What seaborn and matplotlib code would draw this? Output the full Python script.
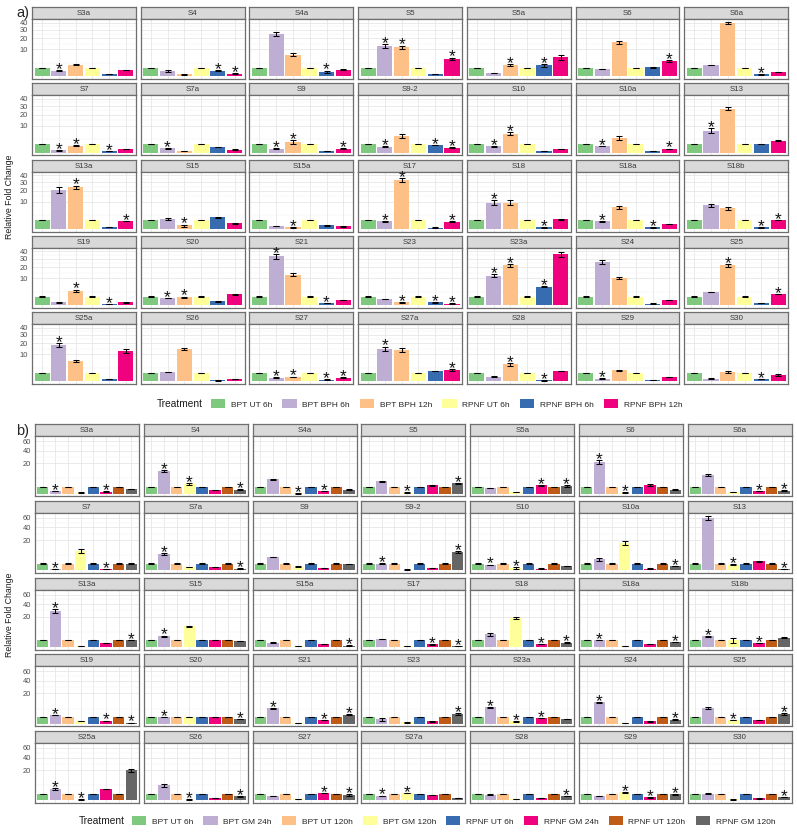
import numpy as np
import pandas as pd
import matplotlib
matplotlib.use("Agg")
import matplotlib.pyplot as plt
import seaborn as sns
from matplotlib.patches import Patch

# ---------------- data ----------------
genes = ["S3a", "S4", "S4a", "S5", "S5a", "S6", "S6a",
         "S7", "S7a", "S9", "S9-2", "S10", "S10a", "S13",
         "S13a", "S15", "S15a", "S17", "S18", "S18a", "S18b",
         "S19", "S20", "S21", "S23", "S23a", "S24", "S25",
         "S25a", "S26", "S27", "S27a", "S28", "S29", "S30"]

treat_a = ["BPT UT 6h", "BPT BPH 6h", "BPT BPH 12h",
           "RPNF UT 6h", "RPNF BPH 6h", "RPNF BPH 12h"]
treat_b = ["BPT UT 6h", "BPT GM 24h", "BPT UT 120h", "BPT GM 120h",
           "RPNF UT 6h", "RPNF GM 24h", "RPNF UT 120h", "RPNF GM 120h"]

colors_a = ["#7FC97F", "#BEAED4", "#FDC086", "#FFFF99", "#386CB0", "#F0027F"]
colors_b = ["#7FC97F", "#BEAED4", "#FDC086", "#FFFF99",
            "#386CB0", "#F0027F", "#BF5B17", "#666666"]

# ---- panel a: relative fold change (mean), error, significance star ----
a_bpt_ut_6h = [1, 1, 1, 1, 1, 1, 1, 1, 1, 1, 1, 1, 1, 1, 1, 1, 1, 1, 1, 1,
               1, 1, 1, 1, 1, 1, 1, 1, 1, 1, 1, 1, 1, 1, 1]
a_bpt_ut_6h_err = [0.02] * 35
a_bpt_ut_6h_star = [0] * 35

a_bpt_bph_6h = [0.44, 0.39, 24.8, 13.0, 0.15, 0.74, 1.78, 0.075, 0.26, 0.19,
                0.5, 0.55, 0.55, 6.7, 21.0, 1.3, 0.1, 0.74, 9.6, 0.74,
                7.75, 0.1, 0.68, 32.8, 0.5, 11.9, 25.6, 2.46, 18.3, 1.2,
                0.19, 14.8, 0.3, 0.1, 0.1]
a_bpt_bph_6h_err = [0.12, 0.08, 2.5, 1.5, 0.03, 0.05, 0.12, 0.02, 0.05, 0.04,
                    0.1, 0.06, 0.04, 1.6, 3.0, 0.25, 0.02, 0.08, 1.8, 0.12,
                    0.9, 0.02, 0.08, 3.0, 0.03, 1.2, 2.5, 0.08, 2.2, 0.04,
                    0.05, 2.0, 0.02, 0.02, 0.02]
a_bpt_bph_6h_star = [1, 0, 0, 1, 0, 0, 0, 1, 1, 1, 1, 1, 1, 1, 0, 0, 0, 1, 1, 1,
                     0, 0, 1, 1, 0, 1, 0, 0, 1, 0, 1, 1, 0, 1, 0]

a_bpt_bph_12h = [1.78, 0.06, 6.5, 11.6, 1.78, 16.0, 39.9, 0.68, 0.025, 1.57,
                 3.7, 5.0, 3.0, 26.8, 24.0, 0.15, 0.025, 33.0, 9.4, 6.5,
                 5.9, 2.85, 0.89, 12.7, 0.1, 22.0, 10.1, 22.0, 5.9, 14.2,
                 0.26, 13.9, 4.0, 1.67, 1.12]
a_bpt_bph_12h_err = [0.15, 0.03, 0.9, 1.5, 0.3, 1.8, 1.5, 0.1, 0.01, 0.6,
                     0.9, 0.9, 0.8, 2.2, 2.0, 0.1, 0.01, 2.5, 1.8, 1.0,
                     0.8, 0.5, 0.12, 1.3, 0.04, 1.8, 0.9, 1.5, 0.6, 1.0,
                     0.05, 1.8, 0.7, 0.1, 0.25]
a_bpt_bph_12h_star = [0, 0, 0, 1, 1, 0, 0, 1, 0, 1, 0, 1, 0, 0, 1, 1, 1, 1, 0, 0,
                      0, 1, 1, 0, 1, 1, 0, 1, 0, 0, 1, 0, 1, 0, 0]

a_rpnf_ut_6h = [1, 1, 1, 1, 1, 1, 1, 1, 1, 1, 1, 1, 1, 1, 1, 1, 1, 1, 1, 1,
                1, 1, 1, 1, 1, 1, 1, 1, 1, 1, 1, 1, 1, 1, 1]
a_rpnf_ut_6h_err = [0.02] * 35
a_rpnf_ut_6h_star = [0] * 35

a_rpnf_bph_6h = [0.055, 0.44, 0.3, 0.055, 1.67, 1.12, 0.055, 0.04, 0.44, 0.04,
                 0.74, 0.025, 0.03, 1.0, 0.04, 1.78, 0.15, 0.015, 0.025, 0.04,
                 0.025, 0.014, 0.19, 0.055, 0.1, 4.65, 0.025, 0.055, 0.075, 0.014,
                 0.04, 1.48, 0.014, 0.025, 0.055]
a_rpnf_bph_6h_err = [0.01, 0.04, 0.15, 0.01, 0.35, 0.05, 0.02, 0.01, 0.03, 0.01,
                     0.04, 0.01, 0.01, 0.04, 0.01, 0.05, 0.02, 0.01, 0.01, 0.02,
                     0.01, 0.01, 0.04, 0.02, 0.02, 0.2, 0.01, 0.01, 0.01, 0.01,
                     0.01, 0.05, 0.01, 0.01, 0.01]
a_rpnf_bph_6h_star = [0, 1, 1, 0, 1, 0, 1, 1, 0, 0, 1, 0, 0, 0, 0, 0, 0, 0, 1, 1,
                      1, 1, 0, 1, 1, 1, 0, 0, 0, 0, 1, 0, 1, 0, 1]

a_rpnf_bph_12h = [0.55, 0.1, 0.6, 4.3, 5.0, 3.4, 0.26, 0.15, 0.125, 0.22,
                  0.35, 0.15, 0.19, 2.0, 0.81, 0.39, 0.075, 0.68, 1.2, 0.35,
                  1.12, 0.1, 1.57, 0.35, 0.025, 36.0, 0.39, 1.67, 12.7, 0.055,
                  0.19, 1.78, 1.48, 0.26, 0.55]
a_rpnf_bph_12h_err = [0.05, 0.03, 0.04, 0.6, 1.2, 0.4, 0.02, 0.02, 0.02, 0.04,
                      0.06, 0.02, 0.03, 0.1, 0.05, 0.03, 0.02, 0.08, 0.04, 0.03,
                      0.04, 0.02, 0.05, 0.03, 0.01, 3.5, 0.03, 0.05, 1.5, 0.01,
                      0.03, 0.2, 0.12, 0.02, 0.12]
a_rpnf_bph_12h_star = [0, 1, 0, 1, 0, 1, 0, 0, 0, 1, 1, 0, 1, 0, 1, 0, 0, 1, 0, 0,
                       1, 0, 0, 0, 1, 0, 0, 1, 0, 0, 1, 1, 0, 0, 0]

# ---- panel b ----
b_bpt_ut_6h = [1, 1, 1, 1, 1, 1, 1, 1, 1, 1, 1, 1, 1, 1, 1, 1, 1, 1, 1, 1,
               1, 1, 1, 1, 1, 1, 1, 1, 1, 1, 1, 1, 1, 1, 1]
b_bpt_ut_6h_err = [0.02] * 35
b_bpt_ut_6h_star = [0] * 35

b_bpt_gm_24h = [0.16, 10.8, 4.4, 3.2, 0.63, 21.9, 7.2, 0.04, 5.9, 3.8,
                1.0, 0.63, 2.7, 60.0, 28.3, 2.53, 0.42, 1.4, 3.4, 1.0,
                2.5, 1.55, 1.0, 5.2, 0.42, 5.9, 9.8, 5.5, 2.7, 5.0,
                0.42, 0.42, 0.72, 0.42, 1.0]
b_bpt_gm_24h_err = [0.03, 1.0, 0.25, 0.35, 0.05, 2.5, 0.8, 0.01, 0.6, 0.1,
                    0.05, 0.08, 0.8, 5.0, 2.5, 0.3, 0.08, 0.03, 0.8, 0.04,
                    0.25, 0.05, 0.04, 0.4, 0.25, 0.2, 0.6, 0.9, 0.45, 0.9,
                    0.05, 0.08, 0.04, 0.03, 0.15]
b_bpt_gm_24h_star = [1, 1, 0, 0, 0, 1, 0, 1, 1, 0, 1, 1, 0, 0, 1, 1, 0, 0, 0, 1,
                     1, 1, 1, 1, 0, 1, 1, 0, 1, 0, 0, 1, 0, 0, 0]

b_bpt_ut_120h = [1, 1, 1, 1, 1, 1, 1, 1, 1, 1, 1, 1, 1, 1, 1, 1, 1, 1, 1, 1,
                 1, 1, 1, 1, 1, 1, 1, 1, 1, 1, 1, 1, 1, 1, 1]
b_bpt_ut_120h_err = [0.02] * 35
b_bpt_ut_120h_star = [0] * 35

b_bpt_gm_120h = [0.02, 1.94, 0.005, 0.02, 0.04, 0.02, 0.04, 8.0, 0.25, 0.3,
                 0.01, 0.12, 16.2, 0.72, 0.01, 9.5, 0.01, 0.01, 18.3, 0.01,
                 1.0, 0.16, 0.9, 0.01, 0.04, 0.12, 0.02, 0.3, 0.01, 0.01,
                 0.04, 1.1, 0.04, 1.4, 0.02]
b_bpt_gm_120h_err = [0.01, 0.4, 0.005, 0.01, 0.01, 0.01, 0.01, 1.5, 0.02, 0.1,
                     0.005, 0.08, 2.0, 0.02, 0.005, 0.4, 0.005, 0.005, 0.8, 0.005,
                     0.6, 0.02, 0.02, 0.005, 0.01, 0.03, 0.01, 0.03, 0.01, 0.01,
                     0.01, 0.06, 0.01, 0.05, 0.01]
b_bpt_gm_120h_star = [0, 1, 1, 1, 0, 1, 0, 0, 0, 0, 0, 1, 0, 1, 0, 0, 0, 0, 0, 0,
                      0, 0, 0, 0, 0, 1, 0, 1, 1, 1, 0, 1, 0, 1, 0]

b_rpnf_ut_6h = [1, 1, 1, 1, 1, 1, 1, 1, 1, 1, 1, 1, 1, 1, 1, 1, 1, 1, 1, 1,
                1, 1, 1, 1, 1, 1, 1, 1, 1, 1, 1, 1, 1, 1, 1]
b_rpnf_ut_6h_err = [0.02] * 35
b_rpnf_ut_6h_star = [0] * 35

b_rpnf_gm_24h = [0.09, 0.25, 0.16, 1.55, 1.55, 1.55, 0.16, 0.04, 0.2, 0.12,
                 0.12, 0.06, 0.06, 1.8, 0.3, 1.0, 0.2, 0.16, 0.2, 0.2,
                 0.3, 0.16, 1.0, 0.3, 0.12, 0.72, 0.12, 0.25, 2.7, 0.12,
                 1.2, 0.56, 0.16, 0.2, 0.09]
b_rpnf_gm_24h_err = [0.02, 0.02, 0.03, 0.2, 0.15, 0.25, 0.03, 0.01, 0.02, 0.02,
                     0.02, 0.01, 0.01, 0.25, 0.02, 0.02, 0.02, 0.05, 0.02, 0.02,
                     0.03, 0.05, 0.02, 0.03, 0.02, 0.05, 0.02, 0.02, 0.05, 0.02,
                     0.05, 0.03, 0.02, 0.03, 0.02]
b_rpnf_gm_24h_star = [1, 0, 1, 0, 1, 0, 1, 1, 0, 0, 0, 0, 0, 0, 0, 0, 0, 1, 1, 0,
                      1, 1, 0, 1, 0, 1, 0, 0, 0, 0, 1, 0, 0, 1, 0]

b_rpnf_ut_120h = [1, 1, 1, 1, 1, 1, 1, 1, 1, 1, 1, 1, 1, 1, 1, 1, 1, 1, 1, 1,
                  1, 1, 1, 1, 1, 1, 1, 1, 1, 1, 1, 1, 1, 1, 1]
b_rpnf_ut_120h_err = [0.02] * 35
b_rpnf_ut_120h_star = [0] * 35

b_rpnf_gm_120h = [0.5, 0.36, 0.36, 2.4, 1.3, 0.36, 0.2, 1.0, 0.06, 0.8,
                  7.2, 0.42, 0.36, 0.04, 1.0, 0.72, 0.04, 0.02, 0.42, 0.56,
                  1.94, 0.02, 0.42, 1.8, 2.1, 0.42, 0.36, 2.1, 19.6, 0.36,
                  0.56, 0.12, 0.42, 0.8, 0.25]
b_rpnf_gm_120h_err = [0.03, 0.03, 0.02, 0.2, 0.35, 0.02, 0.03, 0.03, 0.01, 0.03,
                      0.9, 0.02, 0.03, 0.02, 0.03, 0.02, 0.01, 0.01, 0.03, 0.02,
                      0.04, 0.01, 0.03, 0.1, 0.35, 0.03, 0.05, 0.5, 2.0, 0.06,
                      0.2, 0.02, 0.04, 0.05, 0.06]
b_rpnf_gm_120h_star = [0, 1, 0, 1, 1, 0, 1, 0, 1, 0, 1, 0, 1, 1, 1, 0, 1, 1, 1, 1,
                       0, 1, 1, 1, 1, 0, 1, 1, 0, 1, 1, 0, 1, 1, 1]

series_a = [(a_bpt_ut_6h, a_bpt_ut_6h_err, a_bpt_ut_6h_star),
            (a_bpt_bph_6h, a_bpt_bph_6h_err, a_bpt_bph_6h_star),
            (a_bpt_bph_12h, a_bpt_bph_12h_err, a_bpt_bph_12h_star),
            (a_rpnf_ut_6h, a_rpnf_ut_6h_err, a_rpnf_ut_6h_star),
            (a_rpnf_bph_6h, a_rpnf_bph_6h_err, a_rpnf_bph_6h_star),
            (a_rpnf_bph_12h, a_rpnf_bph_12h_err, a_rpnf_bph_12h_star)]
series_b = [(b_bpt_ut_6h, b_bpt_ut_6h_err, b_bpt_ut_6h_star),
            (b_bpt_gm_24h, b_bpt_gm_24h_err, b_bpt_gm_24h_star),
            (b_bpt_ut_120h, b_bpt_ut_120h_err, b_bpt_ut_120h_star),
            (b_bpt_gm_120h, b_bpt_gm_120h_err, b_bpt_gm_120h_star),
            (b_rpnf_ut_6h, b_rpnf_ut_6h_err, b_rpnf_ut_6h_star),
            (b_rpnf_gm_24h, b_rpnf_gm_24h_err, b_rpnf_gm_24h_star),
            (b_rpnf_ut_120h, b_rpnf_ut_120h_err, b_rpnf_ut_120h_star),
            (b_rpnf_gm_120h, b_rpnf_gm_120h_err, b_rpnf_gm_120h_star)]


def build_df(treats, series):
    rows = []
    for t, (v, e, s) in zip(treats, series):
        assert len(v) == len(e) == len(s) == len(genes), t
        for g, vv, ee, ss in zip(genes, v, e, s):
            rows.append(dict(gene=g, treatment=t, value=vv, err=ee, star=ss))
    return pd.DataFrame(rows)


df_a = build_df(treat_a, series_a)
df_b = build_df(treat_b, series_b)

# ---------------- style ----------------
sns.set_style("white")
plt.rcParams["font.family"] = ["Liberation Sans", "DejaVu Sans"]

W, H = 797, 835
fig = plt.figure(figsize=(W / 100, H / 100), dpi=100)


def rect(x, y, w, h):
    return [x / W, 1 - (y + h) / H, w / W, h / H]


def fwd(x):
    x = np.asarray(x, dtype=float)
    return np.sign(x) * np.sqrt(np.abs(x))


def inv(y):
    y = np.asarray(y, dtype=float)
    return np.sign(y) * y ** 2


BORDER = "#6E6E6E"
GRID = "#E6E6E6"


def draw_panel(df, treats, colors, x0, xpitch, y0, ypitch, strip_h, body_h, ticks):
    n = len(treats)
    s = np.sqrt((df["value"] + df["err"]).max())
    lo, hi = float(inv(-0.05 * s)), float(inv(1.05 * s))
    tsq = np.concatenate([[0.0], fwd(ticks)])
    mids = (tsq[:-1] + tsq[1:]) / 2
    mids = np.append(mids, tsq[-1] + (tsq[-1] - tsq[-2]) / 2)
    minors = inv(mids)
    for k, g in enumerate(genes):
        r, c = divmod(k, 7)
        x = x0 + c * xpitch
        ys = y0 + r * ypitch
        # strip
        sax = fig.add_axes(rect(x, ys, 104, strip_h))
        sax.set_facecolor("#D9D9D9")
        sax.set_xticks([]); sax.set_yticks([])
        for sp in sax.spines.values():
            sp.set_color(BORDER); sp.set_linewidth(0.9)
        sax.text(0.5, 0.45, g, ha="center", va="center", fontsize=5.7,
                 color="#3A3A3A", transform=sax.transAxes)
        # body
        ax = fig.add_axes(rect(x, ys + strip_h, 104, body_h))
        sub = df[df["gene"] == g].set_index("treatment").loc[treats].reset_index()
        sns.barplot(data=sub, x="treatment", y="value", hue="treatment",
                    order=treats, hue_order=treats, palette=colors,
                    legend=False, ax=ax, width=0.9, saturation=1,
                    errorbar=None, linewidth=0, zorder=2)
        ax.set_yscale("function", functions=(fwd, inv))
        xs = np.arange(n)
        ax.errorbar(xs, sub["value"], yerr=sub["err"], fmt="none",
                    ecolor="black", elinewidth=0.75, capsize=2.3,
                    capthick=0.75, zorder=3)
        for i in range(n):
            if sub["star"].iloc[i]:
                ax.annotate("*", xy=(i, sub["value"].iloc[i] + sub["err"].iloc[i]),
                            xytext=(0, -2.9), textcoords="offset points",
                            ha="center", va="baseline", fontsize=12.5,
                            color="#111111", zorder=4)
        ax.set_xlim(-0.6, n - 0.4)
        ax.set_ylim(lo, hi)
        ax.set_xticks(xs)
        ax.set_xticklabels([])
        ax.set_yticks(ticks)
        ax.set_yticks(minors, minor=True)
        ax.set_xlabel(""); ax.set_ylabel("")
        ax.tick_params(axis="x", length=0)
        ax.tick_params(axis="y", which="minor", length=0)
        if c == 0:
            ax.set_yticklabels([str(t) for t in ticks])
            ax.tick_params(axis="y", which="major", length=2, width=0.6,
                           color="#555555", labelsize=5.4,
                           labelcolor="#4D4D4D", pad=1)
        else:
            ax.set_yticklabels([])
            ax.tick_params(axis="y", which="major", length=0)
        ax.set_axisbelow(True)
        ax.grid(True, axis="both", which="major", color=GRID, linewidth=0.6)
        ax.grid(True, axis="y", which="minor", color="#EFEFEF", linewidth=0.35)
        ax.set_facecolor("white")
        for sp in ax.spines.values():
            sp.set_color(BORDER); sp.set_linewidth(0.9); sp.set_visible(True)


draw_panel(df_a, treat_a, colors_a, 32, 108.7, 7, 76.25, 12, 60, [10, 20, 30, 40])
draw_panel(df_b, treat_b, colors_b, 35, 108.8, 424.3, 76.7, 12, 60, [20, 40, 60])

# axis titles and panel tags
fig.text(10 / W, 1 - 197 / H, "Relative Fold Change", rotation=90,
         ha="center", va="center", fontsize=6.3, color="#1A1A1A")
fig.text(10 / W, 1 - 615 / H, "Relative Fold Change", rotation=90,
         ha="center", va="center", fontsize=6.3, color="#1A1A1A")
fig.text(16 / W, 1 - 12.5 / H, "a)", ha="left", va="center", fontsize=10.5)
fig.text(16 / W, 1 - 431 / H, "b)", ha="left", va="center", fontsize=10.5)


def add_legend(treats, colors, tx, bx, y):
    fig.text(tx / W, 1 - y / H, "Treatment", ha="left", va="center",
             fontsize=7.3, color="#1A1A1A")
    handles = [Patch(facecolor=c, edgecolor="none", label=t)
               for t, c in zip(treats, colors)]
    fig.legend(handles=handles, ncol=len(treats), loc="center left",
               bbox_to_anchor=(bx / W, 1 - y / H), frameon=False,
               fontsize=6, handlelength=1.7, handleheight=1.3,
               handletextpad=0.7, columnspacing=1.2, borderpad=0,
               borderaxespad=0)


add_legend(treat_a, colors_a, 157, 211, 404)
add_legend(treat_b, colors_b, 79, 132, 821)

fig.savefig("out.png", dpi=100)
